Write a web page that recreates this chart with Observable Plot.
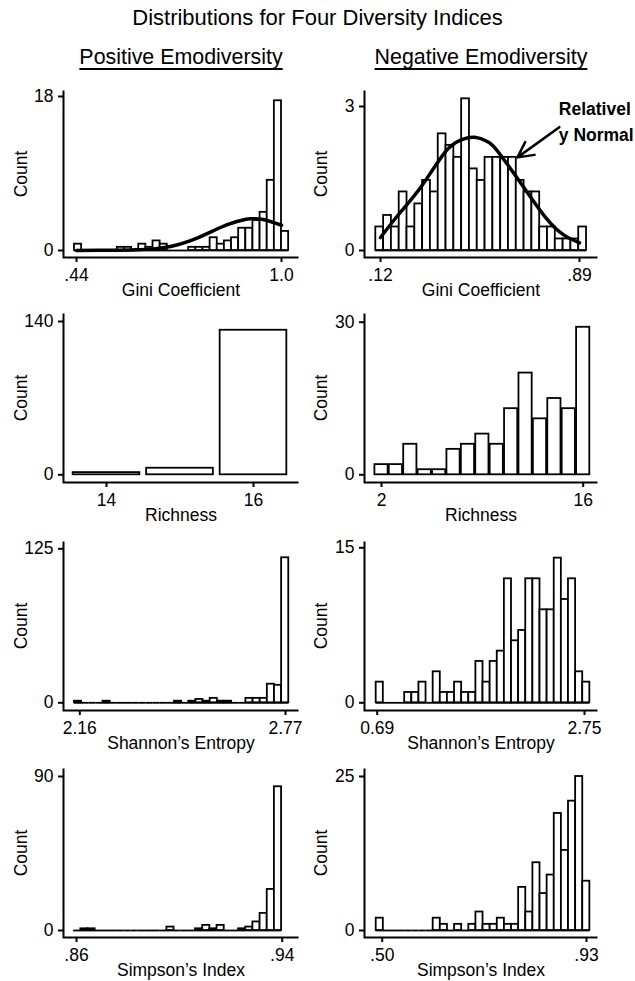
<!DOCTYPE html>
<html>
<head>
<meta charset="utf-8">
<script src="https://cdn.jsdelivr.net/npm/d3@7"></script>
<script src="https://cdn.jsdelivr.net/npm/@observablehq/plot@0.6"></script>
<style>
  html, body { margin: 0; padding: 0; background: #fff; }
  body { width: 635px; height: 981px; position: relative; overflow: hidden;
         font-family: "Liberation Sans", Arial, Helvetica, sans-serif; color: #000; }
  .abs { position: absolute; white-space: nowrap; }
  #title { font-size: 22px; line-height: 22px; left: 0; width: 635px; text-align: center; top: 7.4px; }
  .sub { font-size: 21.4px; line-height: 21.4px; top: 47.4px;
         text-decoration: underline; text-decoration-thickness: 2px; text-underline-offset: 4px;
         transform: translateX(-50%); }
  g[aria-label="x-axis tick"], g[aria-label="y-axis tick"], .tick line { stroke-width: 2px; }
</style>
</head>
<body>
<div class="abs" id="title">Distributions for Four Diversity Indices</div>
<div class="abs sub" style="left:181px;">Positive Emodiversity</div>
<div class="abs sub" style="left:481px;">Negative Emodiversity</div>
<div id="charts"></div>
<script>
// ---------------- DATA ----------------
// Gini coefficient, positive emotions (density histogram, 30 bins)
const giniPosBinStart = 0.4345;
const giniPosBinWidth = 0.0195;
const giniPosHeights = [0.74, 0, 0, 0, 0, 0, 0.37, 0.37, 0, 0.74, 0.37, 1.12, 0.74, 0, 0, 0,
  0.37, 0.37, 0.37, 1.49, 0.74, 1.12, 1.49, 2.6, 2.6, 3.5, 4.46, 8.2, 17.5, 2.23];
const giniPosCurveX = [0.44, 0.50, 0.55, 0.60, 0.65, 0.70, 0.75, 0.80, 0.85, 0.90, 0.92, 0.95, 1.00];
const giniPosCurveY = [0.01, 0.02, 0.04, 0.08, 0.19, 0.50, 1.12, 2.03, 3.00, 3.63, 3.70, 3.62, 2.95];
const giniPosTicks = [0.44, 1.0];
const giniPosTickText = [".44", "1.0"];
const giniPosYTicks = [0, 18];

// Gini coefficient, negative emotions (density histogram, 27 bins)
const giniNegBinStart = 0.1018;
const giniNegBinWidth = 0.0302;
const giniNegHeights = [0.49, 0.73, 0.49, 1.22, 0.49, 0.97, 1.46, 1.22, 2.43, 2.19, 1.94, 3.16, 1.70,
  1.46, 1.94, 1.94, 1.94, 1.94, 1.46, 1.22, 1.22, 0.49, 0.49, 0.24, 0.24, 0.24, 0.49];
const giniNegCurveX = [0.12, 0.19, 0.28, 0.37, 0.43, 0.483, 0.54, 0.58, 0.67, 0.76, 0.83, 0.89];
const giniNegCurveY = [0.27, 0.75, 1.35, 2.05, 2.30, 2.36, 2.25, 2.02, 1.35, 0.68, 0.32, 0.16];
const giniNegTicks = [0.12, 0.89];
const giniNegTickText = [".12", ".89"];
const giniNegYTicks = [0, 3];
const giniNegNoteLines = ["Relativel", "y Normal"];
const giniNegNoteX = [0.810, 0.810];
const giniNegNoteY = [2.83, 2.29];
const giniNegArrowFrom = [0.812, 2.57];
const giniNegArrowTo = [0.650, 1.94];

// Richness (discrete counts)
const richPosValues = [14, 15, 16];
const richPosCounts = [2, 6, 132];
const richPosTicks = [14, 16];
const richPosTickText = ["14", "16"];
const richPosYTicks = [0, 140];

const richNegValues = [2, 3, 4, 5, 6, 7, 8, 9, 10, 11, 12, 13, 14, 15, 16];
const richNegCounts = [2, 2, 6, 1, 1, 5, 6, 8, 6, 13, 20, 11, 15, 13, 29];
const richNegTicks = [2, 16];
const richNegTickText = ["2", "16"];
const richNegYTicks = [0, 30];

// Shannon's entropy
const shanPosBinStart = 2.1443;
const shanPosBinWidth = 0.02118;
const shanPosCounts = [1.3, 0, 0, 0, 1.3, 0, 0, 0, 0, 0, 0, 0, 0, 0, 1.3, 0, 1.3, 2.7, 1.3, 3.6,
  1.3, 1.3, 0, 0, 3.6, 3.6, 3.6, 15.1, 14.2, 117.7];
const shanPosTicks = [2.16, 2.77];
const shanPosTickText = ["2.16", "2.77"];
const shanPosYTicks = [0, 125];

const shanNegBinStart = 0.680;
const shanNegBinWidth = 0.07077;
const shanNegCounts = [2, 0, 0, 0, 1, 1, 2, 0, 3, 1, 1, 2, 1, 1, 4, 2, 4, 5, 12, 6, 7, 12, 12,
  9, 9, 14, 10, 12, 3, 2];
const shanNegTicks = [0.69, 2.75];
const shanNegTickText = ["0.69", "2.75"];
const shanNegYTicks = [0, 15];

// Simpson's index
const simpPosBinStart = 0.8589;
const simpPosBinWidth = 0.002788;
const simpPosCounts = [0, 1, 1, 0, 0, 0, 0, 0, 0, 0, 0, 0, 0, 2, 0, 0, 0, 1, 3, 1, 3, 0, 0, 1, 2,
  5, 10, 24, 84];
const simpPosTicks = [0.86, 0.94];
const simpPosTickText = [".86", ".94"];
const simpPosYTicks = [0, 90];

const simpNegBinStart = 0.4874;
const simpNegBinWidth = 0.01499;
const simpNegCounts = [2, 0, 0, 0, 0, 0, 0, 0, 2, 1, 0, 1, 0, 1, 3, 1, 1, 2, 1, 1, 7, 3, 11, 6,
  9, 19, 13, 21, 25, 8];
const simpNegTicks = [0.50, 0.93];
const simpNegTickText = [".50", ".93"];
const simpNegYTicks = [0, 25];

// ---------------- helpers ----------------
const FONT = '"Liberation Sans", Arial, Helvetica, sans-serif';
const BAR = {fill: "white", stroke: "black", strokeWidth: 1.8};

function bins(start, width, values) {
  return values.map((v, i) => ({x0: start + i * width, x1: start + (i + 1) * width, v}));
}
function histMarks(data) {
  return [
    Plot.ruleY(data, {x1: "x0", x2: "x1", y: 0, stroke: "black", strokeWidth: 1.8}),
    Plot.rectY(data.filter(d => d.v > 0), {x1: "x0", x2: "x1", y: "v", ...BAR})
  ];
}
function discreteMarks(values, counts, gap) {
  const data = values.map((x, i) => ({x0: x - 0.5, x1: x + 0.5, v: counts[i]}));
  return [Plot.rectY(data, {x1: "x0", x2: "x1", y: "v", insetLeft: gap, insetRight: gap, ...BAR})];
}
function curve(xs, ys) {
  return Plot.line(xs.map((x, i) => ({x, y: ys[i]})),
    {x: "x", y: "y", curve: "natural", stroke: "black", strokeWidth: 3.5});
}

// layout (pixels)
const cols = {
  L: {left: 0, width: 317, ml: 63, mr: 19, countDx: -42},
  R: {left: 310, width: 325, ml: 54, mr: 38, countDx: -43.3}
};
const rows = [
  {frameTop: 90, frameBottom: 257},
  {frameTop: 313, frameBottom: 482},
  {frameTop: 541, frameBottom: 710},
  {frameTop: 768, frameBottom: 937}
];

const panels = [
  {col: "L", row: 0, label: "Gini Coefficient", xt: giniPosTicks, xtt: giniPosTickText, yt: giniPosYTicks,
   xi: [13, 17], yi: [6, 7],
   marks: [...histMarks(bins(giniPosBinStart, giniPosBinWidth, giniPosHeights)), curve(giniPosCurveX, giniPosCurveY)]},
  {col: "R", row: 0, label: "Gini Coefficient", xt: giniNegTicks, xtt: giniNegTickText, yt: giniNegYTicks,
   xi: [16, 18], yi: [16, 7],
   marks: [...histMarks(bins(giniNegBinStart, giniNegBinWidth, giniNegHeights)), curve(giniNegCurveX, giniNegCurveY),
     Plot.arrow([{x1: giniNegArrowFrom[0], y1: giniNegArrowFrom[1], x2: giniNegArrowTo[0], y2: giniNegArrowTo[1]}],
       {x1: "x1", y1: "y1", x2: "x2", y2: "y2", stroke: "black", strokeWidth: 2.5, headLength: 13, headAngle: 55}),
     Plot.text(giniNegNoteLines.map((t, i) => ({t, x: giniNegNoteX[i], y: giniNegNoteY[i]})),
       {x: "x", y: "y", text: "t", textAnchor: "start", lineAnchor: "bottom", fontWeight: "bold", fontSize: 17.5, fill: "black"})
   ]},
  {col: "L", row: 1, label: "Richness", xt: richPosTicks, xtt: richPosTickText, yt: richPosYTicks,
   xi: [43, 45], yi: [8, 7.7],
   marks: discreteMarks(richPosValues, richPosCounts, 3.4)},
  {col: "R", row: 1, label: "Richness", xt: richNegTicks, xtt: richNegTickText, yt: richNegYTicks,
   xi: [17, 14.3], yi: [8.7, 7.7],
   marks: discreteMarks(richNegValues, richNegCounts, 0.6)},
  {col: "L", row: 2, label: "Shannon\u2019s Entropy", xt: shanPosTicks, xtt: shanPosTickText, yt: shanPosYTicks,
   xi: [16.3, 13], yi: [7.3, 7.7],
   marks: histMarks(bins(shanPosBinStart, shanPosBinWidth, shanPosCounts))},
  {col: "R", row: 2, label: "Shannon\u2019s Entropy", xt: shanNegTicks, xtt: shanNegTickText, yt: shanNegYTicks,
   xi: [12.7, 13], yi: [6.3, 7.7],
   marks: histMarks(bins(shanNegBinStart, shanNegBinWidth, shanNegCounts))},
  {col: "L", row: 3, label: "Simpson\u2019s Index", xt: simpPosTicks, xtt: simpPosTickText, yt: simpPosYTicks,
   xi: [13, 16.3], yi: [8, 7],
   marks: histMarks(bins(simpPosBinStart, simpPosBinWidth, simpPosCounts))},
  {col: "R", row: 3, label: "Simpson\u2019s Index", xt: simpNegTicks, xtt: simpNegTickText, yt: simpNegYTicks,
   xi: [17.7, 11], yi: [8, 7],
   marks: histMarks(bins(simpNegBinStart, simpNegBinWidth, simpNegCounts))}
];

const host = document.getElementById("charts");
for (const p of panels) {
  const c = cols[p.col], r = rows[p.row];
  const mt = 10, mb = 50;
  const frameH = r.frameBottom - r.frameTop;
  const height = mt + frameH + mb;
  const frameW = c.width - c.ml - c.mr;
  const svg = Plot.plot({
    width: c.width,
    height,
    marginLeft: c.ml, marginRight: c.mr, marginTop: mt, marginBottom: mb,
    style: {fontFamily: FONT, fontSize: "17.5px", color: "black", background: "transparent", overflow: "visible", maxWidth: "none"},
    x: {domain: p.xt, ticks: p.xt, tickFormat: (d, i) => p.xtt[p.xt.indexOf(d)] ?? String(d),
        insetLeft: p.xi[0], insetRight: p.xi[1], tickSize: 5, tickPadding: 6, label: null},
    y: {domain: p.yt, ticks: p.yt, tickFormat: d => String(d),
        insetTop: p.yi[0], insetBottom: p.yi[1], tickSize: 5, tickPadding: 5, label: null},
    marks: [
      ...p.marks,
      Plot.frame({stroke: "black", strokeWidth: 2, strokeDasharray: `0 ${frameW + frameH} ${frameW + frameH + 4}`}),
      Plot.text(["Count"], {text: d => d, frameAnchor: "left", rotate: -90, textAnchor: "middle", lineAnchor: "middle", dx: c.countDx, fontSize: 17.5, fill: "black"}),
      Plot.text([p.label], {text: d => d, frameAnchor: "bottom", textAnchor: "middle", lineAnchor: "top", dy: 26, fontSize: 17.5, fill: "black"})
    ]
  });
  const wrap = document.createElement("div");
  wrap.style.position = "absolute";
  wrap.style.left = c.left + "px";
  wrap.style.top = (r.frameTop - mt) + "px";
  wrap.style.width = c.width + "px";
  wrap.style.height = height + "px";
  wrap.appendChild(svg);
  host.appendChild(wrap);
}
</script>
</body>
</html>
